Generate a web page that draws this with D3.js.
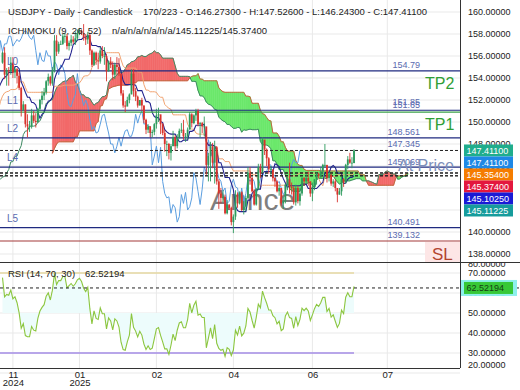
<!DOCTYPE html>
<html>
<head>
<meta charset="utf-8">
<script src="https://cdn.jsdelivr.net/npm/d3@7"></script>
<style>
    body { margin: 0; background: #fff; }
    svg { display: block; font-family: "Liberation Sans", Arial, sans-serif; }
</style>
</head>
<body>
<svg id="chart" width="520" height="390"></svg>
<script>
// USDJPY daily, 2024-09-02 .. 2025-07-11 (first 53 bars are history used by the indicators)
var closes = [
    146.9, 145.4, 143.7, 143.4, 142.3, 143.2, 142.5, 142.4, 141.8, 140.8, 140.6, 142.4, 142.3, 142.6, 143.9, 143.6, 143.2, 144.8, 144.8, 142.2, 143.6,
    143.6, 146.4, 146.9, 148.7, 148.2, 148.2, 149.3, 148.6, 149.1, 149.8, 149.2, 149.3, 150.1, 149.5, 150.9, 151.1, 152.7, 151.8, 152.3, 153.3, 153.4, 153.4, 152.0,
    152.9, 152.1, 151.6, 154.6, 152.9, 152.6, 153.7, 154.6, 155.4,
    156.3, 154.3, 154.7, 154.6, 155.4, 154.5, 154.8, 154.2, 153.1, 151.1, 151.6, 149.8,
    149.6, 149.6, 150.6, 150.1, 150.0, 151.2, 152.0, 152.4, 152.7, 153.7, 154.1, 153.5, 154.7, 157.4, 156.4, 157.1, 157.1, 157.8, 157.8, 156.9, 157.2,
    157.5, 157.3, 157.6, 158.1, 158.3, 158.1, 157.7, 157.5, 157.9, 156.5, 155.2, 156.3, 155.6, 155.5, 156.5, 156.0, 156.0, 154.6, 155.5, 155.2, 154.3, 155.2,
    155.0, 154.4, 152.6, 151.5, 151.4, 152.0, 152.5, 154.4, 152.8, 152.3, 151.5, 152.0, 151.5, 150.2, 149.3, 149.6, 149.0, 149.1, 149.8, 150.6,
    150.7, 149.8, 149.0, 148.0, 148.0, 147.2, 147.8, 148.6, 147.8, 148.6, 149.2, 149.3, 148.7, 148.7, 149.3, 150.7, 149.9, 150.6, 151.0, 149.8, 149.9,
    149.6, 149.6, 146.1, 146.9, 147.8, 146.3, 147.7, 144.6, 143.5, 143.1, 143.2, 141.7, 142.5, 142.2, 140.9, 141.4, 143.4, 142.6, 143.6, 142.0, 142.3, 143.1,
    145.4, 144.9, 143.7, 142.5, 143.9, 145.9, 145.4, 148.4, 147.5, 146.7, 145.7, 145.7, 144.9, 144.6, 143.7, 144.0, 142.6, 142.8, 144.3, 144.8, 144.1, 144.0,
    142.7, 144.0, 142.8, 143.5, 144.9, 144.6, 144.9, 144.6, 143.5, 144.1, 144.8, 145.3, 145.1, 145.5, 146.1, 146.1, 144.9, 145.2, 144.4, 144.6, 144.0,
    143.4, 143.7, 144.8, 144.5, 146.1, 146.6, 146.3, 146.3, 147.411
];
var highs = [
    147.2, 147.0, 145.6, 144.0, 143.9, 143.6, 143.6, 142.8, 142.6, 141.9, 141.0, 142.6, 142.8, 143.4, 144.5, 144.1, 144.2, 145.0, 145.2, 146.5, 143.7,
    144.0, 146.5, 147.2, 149.0, 149.0, 148.3, 149.4, 149.5, 149.3, 149.9, 149.9, 149.6, 150.3, 150.3, 151.0, 151.3, 153.2, 152.9, 152.4, 153.9, 153.9, 153.8, 153.9,
    153.1, 153.0, 152.3, 154.7, 154.7, 153.3, 153.9, 154.7, 155.6,
    156.4, 156.8, 154.9, 155.0, 155.9, 155.9, 155.0, 154.9, 154.5, 153.2, 151.9, 151.6,
    150.7, 150.1, 151.2, 151.0, 150.8, 151.3, 152.1, 152.8, 153.1, 153.8, 154.4, 154.2, 155.0, 157.9, 157.9, 157.3, 157.4, 158.0, 158.1, 158.0, 157.4,
    157.9, 157.8, 158.2, 158.4, 158.5, 158.4, 158.9, 158.0, 158.2, 158.1, 156.6, 156.4, 156.4, 156.3, 156.8, 156.9, 156.8, 156.2, 155.6, 155.9, 155.5, 155.4,
    155.9, 155.8, 154.3, 152.9, 151.9, 152.3, 152.6, 154.8, 154.8, 153.1, 152.4, 152.0, 152.2, 151.5, 150.3, 149.8, 149.6, 149.3, 149.9, 151.2,
    151.3, 150.6, 149.9, 149.3, 148.3, 148.1, 148.0, 149.2, 148.8, 148.9, 149.4, 149.9, 150.2, 149.0, 149.5, 150.9, 150.8, 150.7, 151.2, 151.2, 150.0,
    150.0, 150.5, 149.3, 147.2, 148.2, 148.1, 148.3, 147.8, 144.8, 144.0, 143.8, 143.4, 142.9, 142.5, 142.3, 141.6, 143.8, 143.6, 143.7, 143.7, 142.8, 143.3,
    145.9, 145.9, 145.0, 143.9, 144.0, 146.2, 146.2, 148.6, 148.3, 147.6, 146.8, 146.0, 145.6, 145.0, 144.7, 144.3, 144.0, 143.2, 144.4, 145.0, 146.3, 144.5,
    144.2, 144.3, 144.2, 144.0, 145.1, 145.0, 145.3, 145.5, 144.6, 144.5, 144.8, 145.4, 145.4, 145.9, 146.2, 148.0, 146.1, 145.5, 145.3, 144.8, 144.8,
    144.0, 144.0, 145.0, 144.9, 146.2, 146.9, 147.2, 146.8, 147.526
];
var lows = [
    145.8, 145.2, 143.4, 142.4, 141.8, 142.3, 142.2, 140.7, 141.4, 140.3, 139.6, 140.9, 140.5, 141.6, 142.2, 142.9, 142.9, 143.1, 144.2, 142.0, 141.6,
    142.9, 143.3, 146.1, 146.2, 147.3, 147.4, 148.1, 148.3, 148.5, 148.7, 148.8, 149.1, 149.2, 149.1, 149.3, 150.5, 151.0, 151.6, 151.7, 152.3, 152.9, 152.7, 151.6,
    151.8, 151.7, 151.3, 151.6, 152.7, 152.2, 152.2, 153.5, 154.4,
    155.3, 153.9, 153.3, 153.3, 154.3, 154.0, 154.0, 153.5, 152.9, 150.5, 151.0, 149.5,
    148.6, 149.1, 149.4, 149.9, 149.5, 149.9, 151.0, 151.6, 152.0, 152.5, 153.3, 153.3, 153.3, 154.5, 156.0, 156.2, 157.0, 157.0, 157.2, 156.6, 156.5,
    156.9, 157.1, 157.0, 157.4, 157.9, 157.9, 157.4, 157.0, 157.1, 156.1, 155.0, 155.1, 155.2, 154.8, 155.3, 155.8, 155.2, 153.7, 154.6, 154.9, 153.8, 153.9,
    154.3, 154.2, 152.4, 151.3, 150.9, 151.5, 151.7, 152.6, 152.3, 151.9, 151.3, 151.5, 151.0, 149.9, 148.9, 149.0, 148.6, 148.6, 148.8, 149.4,
    150.0, 148.9, 148.8, 147.3, 146.9, 146.6, 146.5, 147.8, 147.4, 147.6, 148.5, 149.0, 148.4, 148.2, 148.4, 149.4, 149.5, 149.8, 150.1, 149.6, 148.6,
    149.0, 148.7, 145.2, 144.6, 144.6, 145.8, 144.4, 144.3, 142.1, 142.6, 142.7, 141.6, 141.6, 142.0, 140.6, 139.9, 141.1, 142.2, 142.5, 141.9, 141.6, 141.9,
    143.0, 144.3, 143.6, 142.4, 142.4, 143.8, 144.9, 145.4, 147.0, 146.0, 145.3, 145.2, 144.6, 144.1, 143.6, 143.3, 142.4, 142.1, 142.6, 143.8, 143.5, 143.4,
    142.5, 142.4, 142.6, 142.4, 143.3, 144.2, 144.4, 144.2, 143.2, 142.8, 143.8, 144.3, 144.9, 144.9, 145.2, 145.9, 144.5, 144.6, 144.2, 144.1, 143.7,
    142.7, 143.4, 143.3, 144.1, 144.4, 145.7, 146.2, 145.8, 146.243
];
var preBars = 53;
var lastOpen = 146.273;

var xTickIdx = [5, 37, 74, 111, 149, 185];
var xTickMonth = ["11", "01", "02", "04", "06", "07"];
var xTickYear = ["2024", "2025", "", "", "", ""];
var priceTicks = [138, 140, 142, 144, 146, 148, 150, 152, 154, 156, 158, 160];
var rsiTicks = [20, 30, 40, 50, 60, 70, 80];

// horizontal levels drawn on the price panel
var levelPrices = [154.64, 151.07, 148.56, 145.9, 140.4];
var levelTags = ["L0", "L1", "L2", "L4", "L5"];
var levelTexts = ["154.79", "151.65", "148.561", "145.069", "140.491"];
var tpLinePrice = 150.9;
var slPrice = 139.18;
var slText = "139.132";
var dashPrices = [147.411, 145.354, 145.374, 145.1025, 145.11225];

// last values shown on the price axis
var boxValues = [147.411, 147.411, 145.354, 145.374, 145.1025, 145.11225];
var boxColors = ["#20ad8c", "#1e88e5", "#f57c00", "#e3173e", "#1a1ad6", "#169c9c"];

var rsiLast = 62.52194;

var W = 460, mainH = 262, rsiTop = 262, rsiBottom = 368;

var svg = d3.select("#chart");
var x = d3.scaleLinear().domain([0, 220]).range([2.5, 460.1]);
var y = d3.scaleLinear().domain([138, 160]).range([254, 12]);
var yR = d3.scaleLinear().domain([20, 80]).range([373, 253]);

var defs = svg.append("defs");
defs.append("clipPath").attr("id", "clipMain")
    .append("rect").attr("x", 0).attr("y", 0).attr("width", W).attr("height", mainH);
defs.append("clipPath").attr("id", "clipRsi")
    .append("rect").attr("x", 0).attr("y", rsiTop).attr("width", W).attr("height", rsiBottom - rsiTop);
defs.append("clipPath").attr("id", "clipRsiAxis")
    .append("rect").attr("x", W).attr("y", rsiTop + 1).attr("width", 60).attr("height", 120);

/***
 * mid point of the highest high and lowest low over n bars ending at i
 */
function midRange(i, n) {
    if (i < n - 1) return null;
    var hi = d3.max(highs.slice(i - n + 1, i + 1)),
        lo = d3.min(lows.slice(i - n + 1, i + 1));
    return (hi + lo) / 2;
}

function calcRsi(values, n) {
    var out = [], gain = 0, loss = 0;
    for (var i = 1; i < values.length; i++) {
        var ch = values[i] - values[i - 1],
            g = Math.max(ch, 0), l = Math.max(-ch, 0);
        if (i <= n) {
            gain += g; loss += l;
            if (i == n) {
                gain /= n; loss /= n;
                out[i] = 100 - 100 / (1 + gain / loss);
            }
        } else {
            gain = (gain * (n - 1) + g) / n;
            loss = (loss * (n - 1) + l) / n;
            out[i] = 100 - 100 / (1 + gain / loss);
        }
    }
    return out;
}

var N = closes.length;
var tenkan = [], kijun = [], spanA = [], spanB = [], chikou = [];
for (var i = 0; i < N; i++) {
    var v = i - preBars;
    var t = midRange(i, 9), k = midRange(i, 26);
    tenkan.push({v: v, p: t});
    kijun.push({v: v, p: k});
    spanA.push({v: v + 26, p: (t != null && k != null) ? (t + k) / 2 : null});
    spanB.push({v: v + 26, p: midRange(i, 52)});
    chikou.push({v: v - 26, p: closes[i]});
}
var rsiVals = calcRsi(closes, 14);
var rsiData = [];
for (var i = preBars; i < N; i++) rsiData.push({v: i - preBars, p: rsiVals[i]});

// ---------- grid ----------
var grid = svg.append("g");
grid.selectAll(".hg").data(priceTicks).enter().append("line")
    .attr("x1", 0).attr("x2", W)
    .attr("y1", function (d) { return y(d); }).attr("y2", function (d) { return y(d); })
    .style("stroke", "#e9e9e9");
grid.selectAll(".rg").data(rsiTicks.filter(function (d) { return d < 80; })).enter().append("line")
    .attr("x1", 0).attr("x2", W)
    .attr("y1", function (d) { return yR(d); }).attr("y2", function (d) { return yR(d); })
    .style("stroke", "#e9e9e9");
grid.selectAll(".vg").data(xTickIdx).enter().append("line")
    .attr("x1", function (d) { return x(d); }).attr("x2", function (d) { return x(d); })
    .attr("y1", 0).attr("y2", rsiBottom)
    .style("stroke", "#e9e9e9");

// ---------- price panel ----------
var main = svg.append("g").attr("clip-path", "url(#clipMain)");

// watermark
main.append("text").attr("x", 210).attr("y", 210)
    .style("font-size", "30px").style("fill", "#555").style("opacity", 0.75)
    .text("Annce");

// cloud between the two spans
var cloud = [];
for (var j = 0; j < spanA.length - 1; j++) {
    var a0 = spanA[j].p, a1 = spanA[j + 1].p, b0 = spanB[j].p, b1 = spanB[j + 1].p,
        v0 = spanA[j].v, v1 = spanA[j + 1].v;
    if (a0 == null || a1 == null || b0 == null || b1 == null) continue;
    var d0 = a0 - b0, d1 = a1 - b1;
    if (d0 * d1 < 0) {
        var tt = d0 / (d0 - d1), vm = v0 + tt, pm = a0 + (a1 - a0) * tt;
        cloud.push({pts: [[v0, a0], [vm, pm], [v0, b0]], up: d0 > 0});
        cloud.push({pts: [[vm, pm], [v1, a1], [v1, b1]], up: d1 > 0});
    } else {
        cloud.push({pts: [[v0, a0], [v1, a1], [v1, b1], [v0, b0]], up: d0 + d1 > 0});
    }
}
main.selectAll(".cloud").data(cloud).enter().append("polygon")
    .attr("points", function (d) {
        return d.pts.map(function (q) { return x(q[0]) + "," + y(q[1]); }).join(" ");
    })
    .style("fill", function (d) { return d.up ? "#f26a6a" : "#6be86b"; })
    .style("stroke", function (d) { return d.up ? "#f26a6a" : "#6be86b"; })
    .style("stroke-width", 0.6);

var line = d3.line()
    .defined(function (d) { return d.p != null && d.v >= -2; })
    .x(function (d) { return x(d.v); })
    .y(function (d) { return y(d.p); });

function drawLine(data, color, width) {
    main.append("path").datum(data).attr("d", line)
        .style("fill", "none").style("stroke", color).style("stroke-width", width);
}
drawLine(spanB.filter(function (d) { return d.p != null; }), "#c0683f", 1);
drawLine(spanA, "#3f8a63", 1);
drawLine(chikou, "#5b9ee0", 1);
drawLine(kijun, "#f2a472", 1);
drawLine(tenkan, "#23238e", 1.1);

// levels
main.selectAll(".lvl").data(levelPrices).enter().append("line")
    .attr("x1", 0).attr("x2", W)
    .attr("y1", function (d) { return y(d); }).attr("y2", function (d) { return y(d); })
    .style("stroke", "#1f2a80").style("stroke-width", 1.2);
main.append("line").attr("x1", 0).attr("x2", W)
    .attr("y1", y(tpLinePrice)).attr("y2", y(tpLinePrice))
    .style("stroke", "#3aa04a").style("stroke-width", 1.2);
main.append("rect").attr("x", 425).attr("y", y(slPrice) + 1).attr("width", 35).attr("height", 20)
    .style("fill", "#fde6e6");
main.append("line").attr("x1", 0).attr("x2", W)
    .attr("y1", y(slPrice)).attr("y2", y(slPrice))
    .style("stroke", "#a33a3a").style("stroke-width", 1.2);

main.selectAll(".dash").data(dashPrices).enter().append("line")
    .attr("x1", 0).attr("x2", W)
    .attr("y1", function (d) { return y(d); }).attr("y2", function (d) { return y(d); })
    .style("stroke", "#222").style("stroke-width", 1).style("stroke-dasharray", "3,2");

// candles
var candles = [];
for (var i = preBars; i < N; i++) {
    candles.push({
        v: i - preBars,
        o: i == N - 1 ? lastOpen : closes[i - 1],
        h: highs[i], l: lows[i], c: closes[i]
    });
}
var cg = main.selectAll(".candle").data(candles).enter().append("g");
cg.append("line")
    .attr("x1", function (d) { return x(d.v); }).attr("x2", function (d) { return x(d.v); })
    .attr("y1", function (d) { return y(d.h); }).attr("y2", function (d) { return y(d.l); })
    .style("stroke", function (d) { return d.c >= d.o ? "#2c9a5c" : "#d8332c"; })
    .style("stroke-width", 0.9);
cg.append("rect")
    .attr("x", function (d) { return x(d.v) - 0.9; })
    .attr("width", 1.8)
    .attr("y", function (d) { return y(Math.max(d.o, d.c)); })
    .attr("height", function (d) { return Math.max(0.8, Math.abs(y(d.o) - y(d.c))); })
    .style("fill", function (d) { return d.c >= d.o ? "#2c9a5c" : "#d8332c"; });

// level texts
main.selectAll(".tag").data(levelPrices).enter().append("text")
    .attr("x", 7).attr("y", function (d) { return y(d) - 6; })
    .style("font-size", "10px").style("fill", "#5a6bb0")
    .text(function (d, i) { return levelTags[i]; });
main.selectAll(".ltxt").data(levelPrices).enter().append("text")
    .attr("x", 420).attr("y", function (d) { return y(d) - 2.5; })
    .attr("text-anchor", "end")
    .style("font-size", "9px").style("fill", "#5a6bb0")
    .text(function (d, i) { return levelTexts[i]; });
main.append("text").attr("x", 420).attr("y", y(levelPrices[1]) - 5.5).attr("text-anchor", "end")
    .style("font-size", "9px").style("fill", "#5a6bb0").text("151.85");
main.append("text").attr("x", 420).attr("y", y(dashPrices[0]) - 3).attr("text-anchor", "end")
    .style("font-size", "9px").style("fill", "#5a6bb0").text("147.345");
main.append("text").attr("x", 420).attr("y", y(slPrice) - 3).attr("text-anchor", "end")
    .style("font-size", "9px").style("fill", "#5a6bb0").text(slText);

main.append("text").attr("x", 398).attr("y", 171)
    .style("font-size", "16px").style("fill", "#7e8fba").text("At Price");
main.append("text").attr("x", 425).attr("y", 89)
    .style("font-size", "16px").style("fill", "#2f9e35").text("TP2");
main.append("text").attr("x", 425).attr("y", 130)
    .style("font-size", "16px").style("fill", "#2f9e35").text("TP1");
main.append("text").attr("x", 432).attr("y", 260)
    .style("font-size", "17px").style("fill", "#b3442e").text("SL");

// header
var hdr = svg.append("g").style("font-size", "9.5px").style("fill", "#222");
hdr.append("text").attr("x", 8).attr("y", 15).text("USDJPY - Daily - Candlestick");
hdr.append("text").attr("x", 143).attr("y", 15)
    .text("170/223 - O:146.27300 - H:147.52600 - L:146.24300 - C:147.41100");
hdr.append("text").attr("x", 8).attr("y", 34).text("ICHIMOKU (9, 26, 52)");
hdr.append("text").attr("x", 112).attr("y", 34).text("n/a/n/a/n/a/n/a/145.11225/145.37400");

// ---------- RSI panel ----------
var rp = svg.append("g").attr("clip-path", "url(#clipRsi)");
var rsiArea = d3.area()
    .x(function (d) { return x(d.v); })
    .y0(yR(50))
    .y1(function (d) { return yR(d.p); });
rp.append("path").datum(rsiData).attr("d", rsiArea).style("fill", "#edfcfc");
rp.append("line").attr("x1", 0).attr("x2", x(candles.length - 1))
    .attr("y1", yR(70)).attr("y2", yR(70))
    .style("stroke", "#e6d9a2").style("stroke-width", 1.5);
rp.append("line").attr("x1", 0).attr("x2", x(candles.length - 1))
    .attr("y1", yR(30)).attr("y2", yR(30))
    .style("stroke", "#a58ce6").style("stroke-width", 1.5);
rp.append("path").datum(rsiData)
    .attr("d", d3.line().x(function (d) { return x(d.v); }).y(function (d) { return yR(d.p); }))
    .style("fill", "none").style("stroke", "#8cc63f").style("stroke-width", 1.1);

svg.append("text").attr("x", 8).attr("y", 277).style("font-size", "9.5px").style("fill", "#222")
    .text("RSI (14, 70, 30)");
svg.append("text").attr("x", 85).attr("y", 277).style("font-size", "9.5px").style("fill", "#222")
    .text(rsiLast.toFixed(5));

// ---------- axes ----------
var yAxis = d3.axisRight(y).tickValues(priceTicks).tickFormat(d3.format(".5f")).tickSize(0).tickPadding(8);
var ya = svg.append("g").attr("transform", "translate(" + W + ",0)").call(yAxis);
ya.select(".domain").remove();
ya.selectAll("text").style("font-size", "9px").style("fill", "#222")
    .style("font-family", "Liberation Sans, Arial, sans-serif");

var rAxis = d3.axisRight(yR).tickValues(rsiTicks).tickFormat(d3.format(".5f")).tickSize(0).tickPadding(8);
var ra = svg.append("g").attr("clip-path", "url(#clipRsiAxis)")
    .append("g").attr("transform", "translate(" + W + ",0)").call(rAxis);
ra.select(".domain").remove();
ra.selectAll(".tick").attr("transform", function (d) {
    return "translate(0," + Math.max(264, Math.min(365, yR(d))) + ")";
});
ra.selectAll("text").style("font-size", "9px").style("fill", "#222")
    .style("font-family", "Liberation Sans, Arial, sans-serif");

var xAxis = d3.axisBottom(x).tickValues(xTickIdx).tickSize(0).tickPadding(3)
    .tickFormat(function (d, i) { return xTickMonth[i]; });
var xa = svg.append("g").attr("transform", "translate(0," + rsiBottom + ")").call(xAxis);
xa.select(".domain").remove();
xa.selectAll("text").style("font-size", "9.5px").style("fill", "#222")
    .style("font-family", "Liberation Sans, Arial, sans-serif");
xa.selectAll(".tick").append("text").attr("y", 11.5).attr("dy", "0.71em")
    .attr("text-anchor", "middle")
    .style("font-size", "9.5px").style("fill", "#222")
    .text(function (d, i) { return xTickYear[i]; });

// borders
svg.append("line").attr("x1", W + 0.5).attr("x2", W + 0.5).attr("y1", 0).attr("y2", rsiBottom)
    .style("stroke", "#333");
svg.append("line").attr("x1", 0).attr("x2", 520).attr("y1", rsiTop + 0.5).attr("y2", rsiTop + 0.5)
    .style("stroke", "#333");
svg.append("line").attr("x1", 0).attr("x2", W).attr("y1", rsiBottom + 0.5).attr("y2", rsiBottom + 0.5)
    .style("stroke", "#333");

// value boxes on the price axis
var prevY = -100;
boxValues.forEach(function (val, i) {
    var cy = Math.max(y(val), prevY + 12);
    prevY = cy;
    svg.append("rect").attr("x", 464).attr("y", cy - 6).attr("width", 49).attr("height", 12)
        .style("fill", boxColors[i]);
    svg.append("text").attr("x", 466.5).attr("y", cy + 3.3)
        .style("font-size", "9px").style("fill", "#fff").text(val.toFixed(5));
});

// rsi dashed last value and box
svg.append("line").attr("x1", 0).attr("x2", 520).attr("y1", yR(rsiLast)).attr("y2", yR(rsiLast))
    .style("stroke", "#222").style("stroke-dasharray", "3,3");
svg.append("rect").attr("x", 461).attr("y", yR(rsiLast) - 8).attr("width", 56).attr("height", 16)
    .style("fill", "#8ef0ec");
svg.append("rect").attr("x", 464).attr("y", yR(rsiLast) - 6).attr("width", 49).attr("height", 12)
    .style("fill", "#37c837");
svg.append("text").attr("x", 466.5).attr("y", yR(rsiLast) + 3.3)
    .style("font-size", "9px").style("fill", "#143d14").text(rsiLast.toFixed(5));
</script>
</body>
</html>
